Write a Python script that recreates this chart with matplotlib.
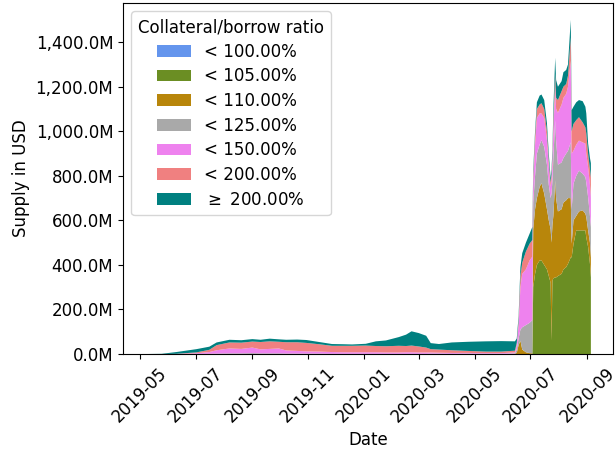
"""Stacked supply chart by collateral/borrow ratio bucket."""

import matplotlib
matplotlib.use("Agg")
import pandas as pd
import matplotlib.pyplot as plt
import matplotlib.dates as mdates
from matplotlib.ticker import FuncFormatter

plt.rcParams['font.size'] = 12

# dates of the readings
dates = [
    "2019-05-07", "2019-05-25", "2019-06-10", "2019-07-02", "2019-07-16",
    "2019-07-24", "2019-08-07", "2019-08-20", "2019-09-01", "2019-09-10",
    "2019-09-20", "2019-09-30", "2019-10-08", "2019-10-20", "2019-10-30",
    "2019-11-13", "2019-11-27", "2019-12-10", "2019-12-19", "2020-01-03",
    "2020-01-14", "2020-01-25", "2020-02-08", "2020-02-16", "2020-02-22",
    "2020-03-01", "2020-03-09", "2020-03-14", "2020-03-23", "2020-04-06",
    "2020-04-24", "2020-05-13", "2020-05-30", "2020-06-14", "2020-06-16",
    "2020-06-18", "2020-06-20", "2020-06-22", "2020-06-26", "2020-06-30",
    "2020-07-03", "2020-07-04", "2020-07-06", "2020-07-08", "2020-07-11",
    "2020-07-13", "2020-07-16", "2020-07-19", "2020-07-21", "2020-07-23",
    "2020-07-24", "2020-07-25", "2020-07-26", "2020-07-28", "2020-07-29",
    "2020-07-31", "2020-08-04", "2020-08-06", "2020-08-09", "2020-08-11",
    "2020-08-14", "2020-08-15", "2020-08-17", "2020-08-20", "2020-08-23",
    "2020-08-27", "2020-08-30", "2020-08-31", "2020-09-02", "2020-09-04",
    "2020-09-05",
]

# supply per bucket, million USD
lt_100 = [
    0, 0, 0, 0, 0, 0, 0, 0, 0, 0,
    0, 0, 0, 0, 0, 0, 0, 0, 0, 0,
    0, 0, 0, 0, 0, 0, 0, 0, 0, 0,
    0, 0, 0, 0, 0, 0, 0, 0, 0, 0,
    0, 0, 0, 0, 0, 0, 0, 0, 0, 0,
    0, 0, 0, 0, 0, 0, 0, 0, 0, 0,
    0, 0, 0, 0, 0, 0, 0, 0, 0, 0,
    0,
]
lt_105 = [
    0, 0, 0, 0, 0, 0, 0, 0, 0, 0,
    0, 0, 0, 0, 0, 0, 0, 0, 0, 0,
    0, 0, 0, 0, 0, 0, 0, 0, 0, 0,
    0, 0, 0, 0, 0, 0, 0, 0, 0, 0,
    0, 300, 360, 400, 420, 420, 400, 380, 350, 320,
    60, 330, 340, 344, 344, 350, 360, 380, 390, 405,
    434, 434, 494, 555, 555, 555, 555, 523, 480, 405,
    344,
]
lt_110 = [
    0, 0, 0, 0, 0, 0, 0, 0, 0, 0,
    0, 0, 0, 0, 0, 0, 0, 0, 0, 0,
    0, 0, 0, 0, 0, 0, 0, 0, 0, 0,
    1, 0, 0, 1, 5, 40, 60, 20, 8, 4,
    3, 260, 290, 300, 330, 347, 320, 270, 250, 240,
    440, 250, 280, 436, 356, 290, 290, 300, 300, 295,
    266, 61, 106, 65, 85, 90, 75, 92, 75, 95,
    89,
]
lt_125 = [
    0, 0, 0, 0.5, 1, 2, 3, 3, 4, 3,
    3, 3, 2, 2, 2, 2, 1, 1, 1, 1,
    1, 1, 1, 1, 1, 1, 1, 2, 2, 1,
    1, 1, 1, 2, 15, 30, 50, 100, 122, 136,
    149, 120, 150, 200, 190, 193, 210, 200, 160, 140,
    220, 200, 260, 270, 260, 210, 210, 200, 210, 212,
    250, 155, 165, 180, 183, 165, 164, 155, 149, 120,
    137,
]
lt_150 = [
    0, 0, 0.5, 3, 8, 15, 22, 20, 25, 18,
    20, 22, 14, 12, 10, 9, 8, 7, 7, 7,
    7, 6, 6, 7, 7, 6, 6, 5, 4, 4,
    3, 3, 3, 4, 20, 60, 190, 240, 250, 280,
    285, 90, 140, 160, 140, 120, 130, 110, 80, 50,
    60, 80, 120, 150, 140, 233, 260, 270, 268, 288,
    367, 250, 148, 140, 135, 140, 151, 130, 134, 140,
    134,
]
lt_200 = [
    0, 0, 0.5, 4, 10, 23, 27, 28, 27, 33,
    34, 30, 37, 39, 38, 33, 28, 29, 29, 30,
    28, 28, 30, 28, 30, 27, 22, 15, 14, 12,
    9, 7, 7, 8, 10, 20, 50, 50, 80, 75,
    75, 30, 40, 40, 40, 46, 40, 40, 30, 20,
    30, 30, 50, 60, 50, 57, 60, 50, 44, 50,
    105, 100, 120, 110, 105, 90, 72, 90, 60, 70,
    88,
]
ge_200 = [
    0, 1, 8, 14.5, 14, 12, 12, 11, 11, 10,
    12, 11, 11, 12, 13, 10, 8, 7, 6, 8,
    21, 26, 39, 51, 64, 60, 53, 27, 25, 35,
    41, 46, 47, 42, 20, 20, 40, 43, 40, 45,
    58, 26, 20, 30, 40, 39, 40, 36, 30, 20,
    20, 30, 50, 70, 80, 60, 45, 65, 63, 50,
    78, 95, 77, 80, 77, 95, 93, 90, 47, 50,
    65,
]

labels = ["< 100.00%", "< 105.00%", "< 110.00%", "< 125.00%",
          "< 150.00%", "< 200.00%", r"$\geq$ 200.00%"]
colors = ["cornflowerblue", "olivedrab", "darkgoldenrod", "darkgray",
          "violet", "lightcoral", "teal"]


def supply_plot(img: str = "out.png"):
    """Plot the stacked supply per collateral/borrow ratio bucket."""
    df = pd.DataFrame({
        "lt_100": lt_100, "lt_105": lt_105, "lt_110": lt_110,
        "lt_125": lt_125, "lt_150": lt_150, "lt_200": lt_200,
        "ge_200": ge_200,
    }, index=pd.to_datetime(dates))

    fig = plt.figure(figsize=(6.15, 4.51), dpi=100)
    ax = fig.add_axes([0.2, 0.215, 0.797, 0.778])
    ax.stackplot(df.index, df.T.values, labels=labels, colors=colors)

    ax.xaxis.set_major_locator(mdates.MonthLocator(bymonth=[1, 3, 5, 7, 9, 11]))
    ax.xaxis.set_major_formatter(mdates.DateFormatter("%Y-%m"))
    ax.yaxis.set_major_formatter(FuncFormatter(lambda v, p: "{:,.1f}M".format(v)))
    plt.setp(ax.get_xticklabels(), rotation=45)

    ax.set_xlabel("Date")
    ax.set_ylabel("Supply in USD")
    ax.legend(loc="upper left", title="Collateral/borrow ratio", labelspacing=0.4)
    plt.savefig(img)
    plt.close()


supply_plot()
